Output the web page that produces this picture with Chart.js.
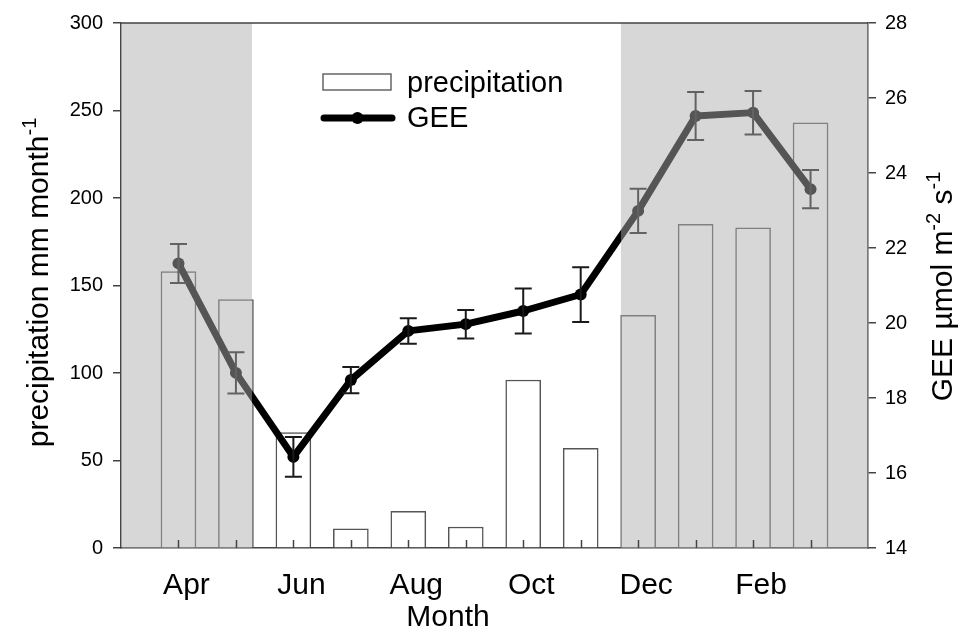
<!DOCTYPE html>
<html>
<head>
<meta charset="utf-8">
<script src="https://cdn.jsdelivr.net/npm/chart.js@4.4.1/dist/chart.umd.min.js"></script>
<style>
  html, body { margin: 0; padding: 0; background: #fff; }
  #wrap { width: 971px; height: 629px; position: relative; }
</style>
</head>
<body>
<div id="wrap"><canvas id="chart" width="971" height="629"></canvas></div>
<script>
// Monthly series, April through March
const months = ['Apr', 'May', 'Jun', 'Jul', 'Aug', 'Sep', 'Oct', 'Nov', 'Dec', 'Jan', 'Feb', 'Mar'];
const precipitation = [158, 142, 66, 11, 21, 12, 96, 57, 133, 185, 183, 243];      // mm month-1
const gee = [21.59, 18.67, 16.43, 18.48, 19.79, 19.97, 20.32, 20.76, 22.99, 25.52, 25.61, 23.57]; // umol m-2 s-1
const geeErr = [0.52, 0.55, 0.53, 0.35, 0.34, 0.38, 0.60, 0.73, 0.59, 0.64, 0.58, 0.51];
const labelledMonths = ['Apr', 'Jun', 'Aug', 'Oct', 'Dec', 'Feb'];
const precipTicks = [0, 50, 100, 150, 200, 250, 300];
const geeTicks = [14, 16, 18, 20, 22, 24, 26, 28];
// dry-season spans on the month axis (1 = Apr ... 12 = Mar)
const drySeasons = [[0, 2.28], [8.7, 13]];

const FONT = "'Liberation Sans', Arial, Helvetica, sans-serif";
const AXIS = '#444';

// error bars, then the translucent dry-season shading over the marks
const overlays = {
  id: 'overlays',
  afterDatasetsDraw(chart) {
    const { ctx, chartArea: a } = chart;
    const xs = chart.scales.x, ys = chart.scales.y2;
    ctx.save();
    ctx.strokeStyle = '#1a1a1a';
    ctx.lineWidth = 2;
    gee.forEach((v, i) => {
      const px = xs.getPixelForValue(i + 1);
      const t = ys.getPixelForValue(v + geeErr[i]);
      const b = ys.getPixelForValue(v - geeErr[i]);
      ctx.beginPath();
      ctx.moveTo(px, t); ctx.lineTo(px, b);
      ctx.moveTo(px - 8.5, t); ctx.lineTo(px + 8.5, t);
      ctx.moveTo(px - 8.5, b); ctx.lineTo(px + 8.5, b);
      ctx.stroke();
    });
    ctx.fillStyle = 'rgba(174,174,174,0.49)';
    drySeasons.forEach(([s, e]) => {
      const x0 = Math.max(xs.getPixelForValue(s), a.left + 1);
      const x1 = Math.min(xs.getPixelForValue(e), a.right);
      ctx.fillRect(x0, a.top, x1 - x0, a.bottom - a.top);
    });
    ctx.restore();
  }
};

function drawParts(ctx, parts, cx, cy, rotate) {
  ctx.save();
  ctx.translate(cx, cy);
  if (rotate) ctx.rotate(-Math.PI / 2);
  let total = 0;
  parts.forEach(p => { ctx.font = p.size + 'px ' + FONT; p.w = ctx.measureText(p.t).width; total += p.w; });
  let x = -total / 2;
  ctx.textBaseline = 'alphabetic';
  ctx.textAlign = 'left';
  ctx.fillStyle = '#000';
  parts.forEach(p => { ctx.font = p.size + 'px ' + FONT; ctx.fillText(p.t, x, -(p.rise || 0)); x += p.w; });
  ctx.restore();
}

// frame pieces, inward month ticks, axis titles and legend
const decorations = {
  id: 'decorations',
  afterDraw(chart) {
    const { ctx, chartArea: a } = chart;
    const xs = chart.scales.x;
    ctx.save();
    ctx.strokeStyle = AXIS;
    ctx.lineWidth = 1.5;
    ctx.beginPath();
    ctx.moveTo(a.left, a.top); ctx.lineTo(a.right, a.top);
    months.forEach((m, i) => {
      const px = Math.round(xs.getPixelForValue(i + 1)) + 0.5;
      ctx.moveTo(px, a.bottom); ctx.lineTo(px, a.bottom - 8);
    });
    ctx.stroke();

    // axis titles
    drawParts(ctx, [
      { t: 'precipitation mm month', size: 30 },
      { t: '-1', size: 20, rise: 12 }
    ], 48, (a.top + a.bottom) / 2 - 3, true);
    drawParts(ctx, [
      { t: 'GEE \u00b5mol m', size: 30 },
      { t: '-2', size: 20, rise: 12 },
      { t: ' s', size: 30 },
      { t: '-1', size: 20, rise: 12 }
    ], 952, (a.top + a.bottom) / 2 + 1, true);
    drawParts(ctx, [{ t: 'Month', size: 30 }], xs.getPixelForValue(5.69), 626, false);

    // legend
    const lx = 323, ly = 74;
    ctx.fillStyle = '#fff';
    ctx.strokeStyle = '#666';
    ctx.lineWidth = 1.5;
    ctx.fillRect(lx, ly, 68, 16);
    ctx.strokeRect(lx, ly, 68, 16);
    ctx.strokeStyle = '#000';
    ctx.lineWidth = 7;
    ctx.lineCap = 'round';
    ctx.beginPath();
    ctx.moveTo(lx + 1, 118); ctx.lineTo(lx + 69, 118);
    ctx.stroke();
    ctx.fillStyle = '#000';
    ctx.beginPath();
    ctx.arc(lx + 34.5, 118, 6, 0, Math.PI * 2);
    ctx.fill();
    ctx.font = '29px ' + FONT;
    ctx.textBaseline = 'alphabetic';
    ctx.fillText('precipitation', 407, 92);
    ctx.fillText('GEE', 407, 127);
    ctx.restore();
  }
};

const tickFont = { family: FONT, size: 20 };

new Chart(document.getElementById('chart'), {
  data: {
    datasets: [
      {
        type: 'line',
        label: 'GEE',
        yAxisID: 'y2',
        data: gee.map((v, i) => ({ x: i + 1, y: v })),
        borderColor: '#000',
        borderWidth: 7,
        borderJoinStyle: 'round',
        pointRadius: 6,
        pointBackgroundColor: '#000',
        pointBorderWidth: 0,
        tension: 0,
        order: 0
      },
      {
        type: 'bar',
        label: 'precipitation',
        yAxisID: 'y',
        data: precipitation.map((v, i) => ({ x: i + 1, y: v })),
        backgroundColor: '#fff',
        borderColor: '#555',
        borderWidth: 1.5,
        barThickness: 35,
        order: 1
      }
    ]
  },
  options: {
    responsive: false,
    animation: false,
    events: [],
    layout: { padding: { top: 23, left: 0, right: 0, bottom: 0 } },
    plugins: { legend: { display: false }, tooltip: { enabled: false } },
    scales: {
      x: {
        type: 'linear',
        position: 'bottom',
        min: 0,
        max: 13,
        offset: false,
        z: 1,
        afterFit(s) { s.height = 81; },
        afterBuildTicks(s) { s.ticks = months.map((m, i) => ({ value: i + 1 })); },
        grid: { display: false },
        border: { display: true, color: AXIS, width: 1.5 },
        ticks: {
          autoSkip: false,
          maxRotation: 0,
          padding: 12,
          labelOffset: 8,
          color: '#000',
          font: { family: FONT, size: 30 },
          callback: (v) => { const m = months[v - 1]; return labelledMonths.includes(m) ? m : ''; }
        }
      },
      y: {
        type: 'linear',
        position: 'left',
        min: 0,
        max: 300,
        z: 1,
        afterFit(s) { s.width = 121; },
        afterBuildTicks(s) { s.ticks = precipTicks.map(v => ({ value: v })); },
        grid: { drawOnChartArea: false, drawTicks: true, tickLength: 8, color: AXIS, lineWidth: 1.5 },
        border: { display: true, color: AXIS, width: 1.5 },
        ticks: { padding: 10, color: '#000', font: tickFont }
      },
      y2: {
        type: 'linear',
        position: 'right',
        min: 14,
        max: 28,
        z: 1,
        afterFit(s) { s.width = 103; },
        afterBuildTicks(s) { s.ticks = geeTicks.map(v => ({ value: v })); },
        grid: { drawOnChartArea: false, drawTicks: true, tickLength: 8, color: AXIS, lineWidth: 1.5 },
        border: { display: true, color: AXIS, width: 1.5 },
        ticks: { padding: 9, color: '#000', font: tickFont }
      }
    }
  },
  plugins: [overlays, decorations]
});
</script>
</body>
</html>
